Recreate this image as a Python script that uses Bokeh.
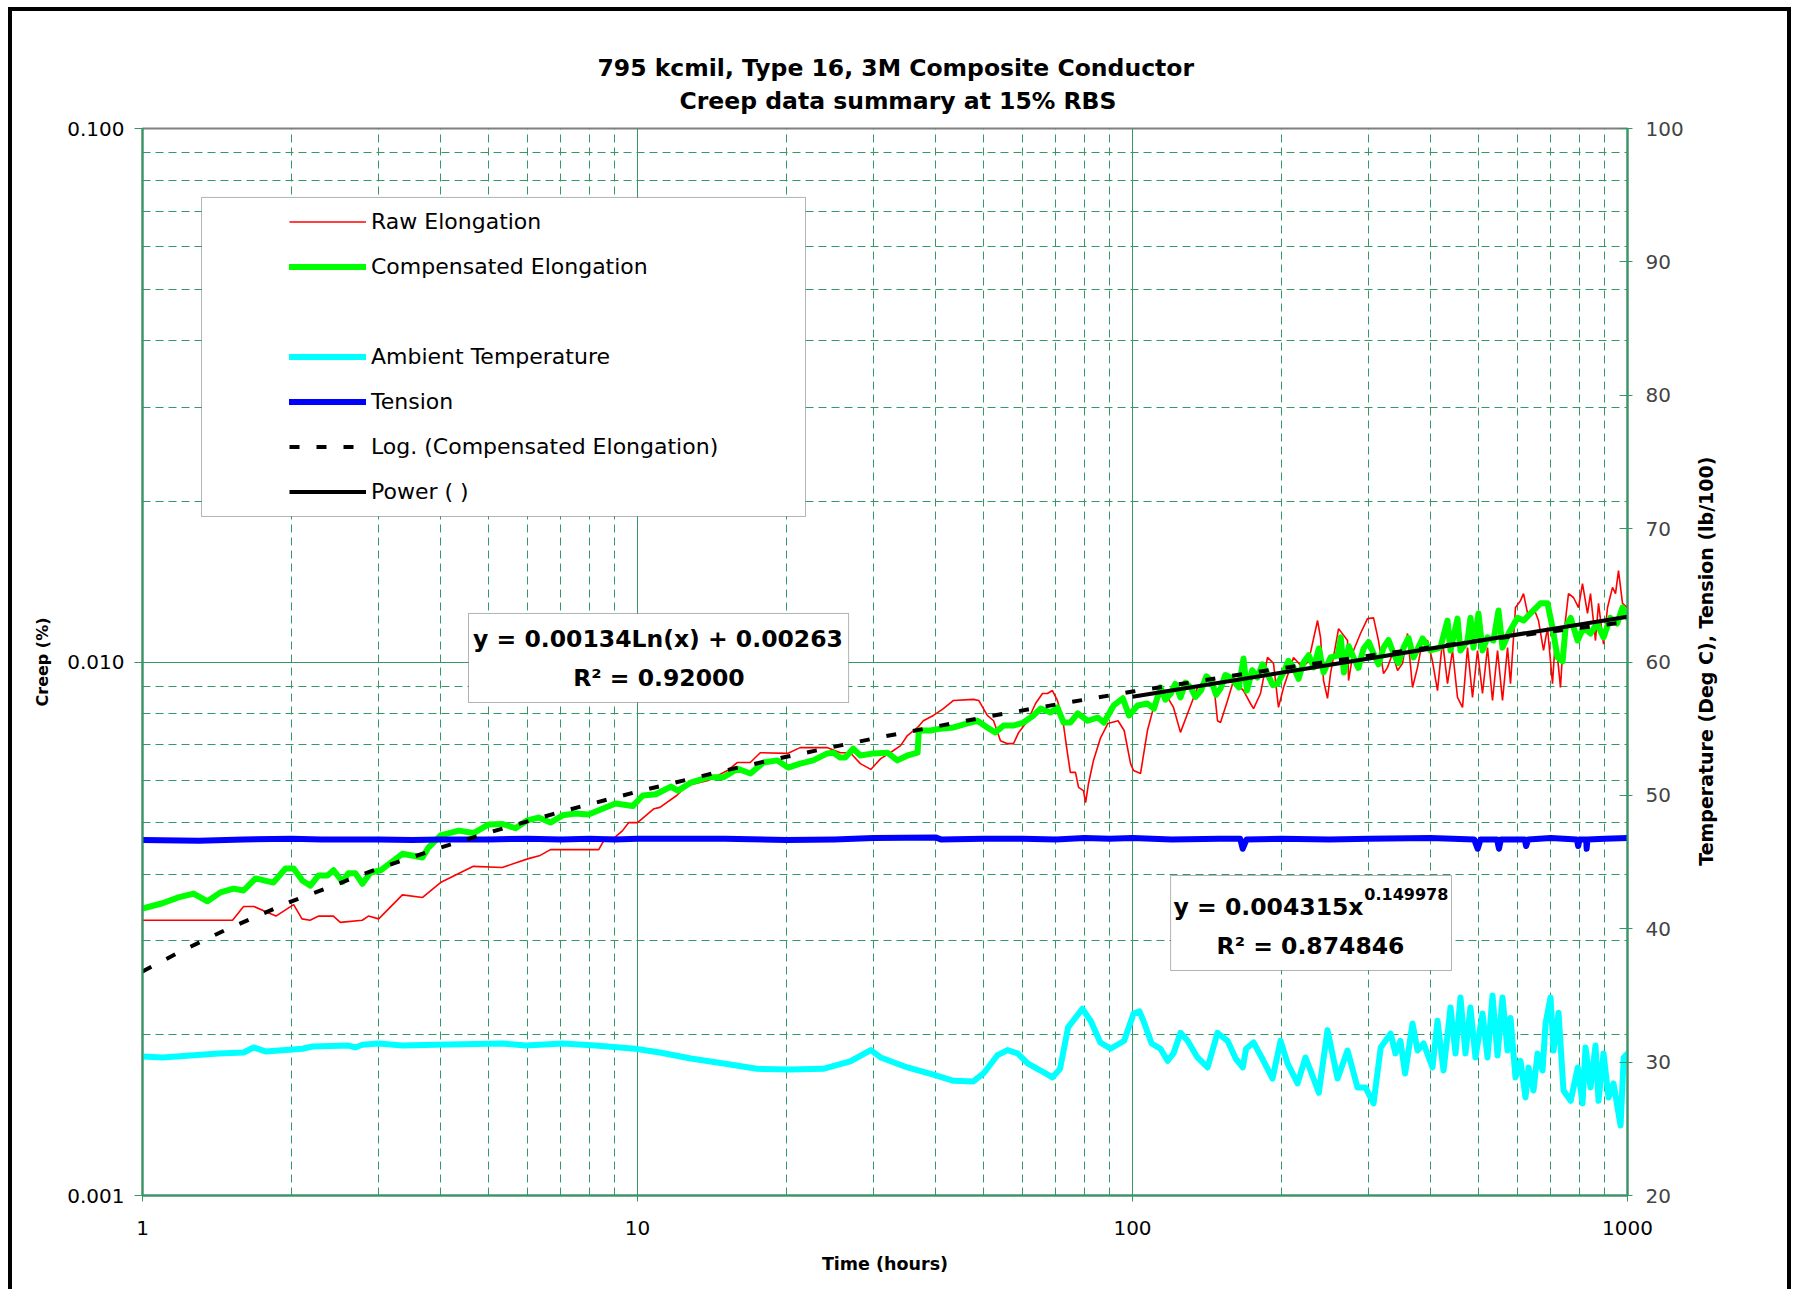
import math
from bokeh.plotting import figure
from bokeh.layouts import row
from bokeh.models import (Range1d, LinearAxis, LinearScale, FixedTicker, Legend, LegendItem,
                          Label, BoxAnnotation, PrintfTickFormatter, Title)
from bokeh.embed import file_html
from bokeh.resources import INLINE

FONT = "DejaVu Sans"
GRID = "#339966"

# ---------------- data ----------------
raw_t = [1.0, 1.52, 1.60, 1.68, 1.86, 2.02, 2.10, 2.18, 2.27, 2.43, 2.51, 2.78, 2.86, 3.0,
         3.35, 3.68, 4.0, 4.66, 5.33, 6.02, 6.36, 6.67, 8.35, 8.62, 9.0, 9.33, 9.6, 10.0,
         10.8, 11.1, 12.0, 12.6, 13.9, 15.2, 15.9, 16.9, 17.7, 20.1, 21.3, 24.2, 25.7, 26.9,
         28.2, 29.6, 31.0, 32.4, 34.0, 35.1, 36.8, 37.8, 39.6, 41.3, 43.5, 47.7, 48.9, 50.9,
         52.4, 54.1, 55.9, 57.5, 58.9, 61.4, 63.7, 65.8, 67.3, 68.9, 70.5, 72.2, 73.9, 74.9,
         76.7, 77.8, 79.6, 80.4, 81.5, 83.4, 86.1, 89.2, 93.5, 96.2, 99.1,
         100.5, 103.8, 107.2, 110.3, 115.5, 121.0, 125.0, 129.2, 135.3, 141.8, 145.7, 148.5,
         150.6, 155.6, 160.0, 167.6, 173.1, 175.6, 181.4, 187.4, 192.7, 197.2, 201.9, 211.5,
         220.5, 226.8, 236.5, 239.8, 243.2, 247.7, 251.2, 260.8, 271.9, 273.2, 279.6, 288.8,
         298.4, 306.9, 314.0, 321.5, 327.5, 335.2, 343.1, 351.2, 359.4, 367.9, 376.5, 385.4,
         394.5, 403.7, 413.2, 422.9, 432.9, 443.1, 453.5, 464.2, 475.1, 486.3, 497.7, 509.4,
         521.4, 533.7, 546.3, 559.1, 572.3, 580.3, 593.9, 607.9, 616.5, 631.0, 645.8, 661.0,
         676.6, 689.3, 705.5, 715.4, 732.2, 742.5, 760.0, 777.9, 796.2, 811.1, 830.2, 841.9,
         861.7, 873.9, 894.5, 911.3, 932.6, 945.8, 959.0, 977.0, 1000.0]
raw_c = [0.00328, 0.00328, 0.00348, 0.00348, 0.00334, 0.00351, 0.00330, 0.00328, 0.00334, 0.00334,
         0.00325, 0.00328, 0.00334, 0.00330, 0.00366, 0.00362, 0.00386, 0.00414, 0.00412, 0.00428,
         0.00434, 0.00445, 0.00445, 0.00469, 0.00469, 0.00483, 0.00500, 0.00500, 0.00531, 0.00534,
         0.00562, 0.00587, 0.00600, 0.00626, 0.00648, 0.00648, 0.00676, 0.00674, 0.00691, 0.00691,
         0.00676, 0.00676, 0.00645, 0.00629, 0.00659, 0.00676, 0.00697, 0.00728, 0.00754, 0.00776,
         0.00794, 0.00815, 0.00847, 0.00851, 0.00847, 0.00794, 0.00776, 0.00712, 0.00703, 0.00703,
         0.00738, 0.00776, 0.00836, 0.00873, 0.00873, 0.00884, 0.00847, 0.00787, 0.00674, 0.00621,
         0.00621, 0.00582, 0.00574, 0.00545, 0.00592, 0.00654, 0.00719, 0.00767, 0.00776, 0.00744,
         0.00645,
         0.00626, 0.00618, 0.00744, 0.00822, 0.00884, 0.00822, 0.00738, 0.00801, 0.00896, 0.00935,
         0.00923, 0.00776, 0.00770, 0.00847, 0.00923, 0.00884, 0.00836, 0.00818, 0.00873, 0.01020,
         0.00994, 0.00822, 0.00896, 0.01020, 0.00977, 0.01003, 0.01196, 0.01112, 0.00923, 0.00855,
         0.00951, 0.01155, 0.01097, 0.00923, 0.01051, 0.01131, 0.01206, 0.01210, 0.01097, 0.00951,
         0.00977, 0.01037, 0.00964, 0.00994, 0.01131, 0.00896, 0.00977, 0.01097, 0.01097, 0.01003,
         0.00884, 0.01097, 0.00911, 0.01051, 0.00858, 0.00822, 0.01064, 0.00858, 0.01051, 0.00873,
         0.01064, 0.00847, 0.01051, 0.00847, 0.01064, 0.00911, 0.01265, 0.01303, 0.01343, 0.01210,
         0.01265, 0.01196, 0.01051, 0.01160, 0.00911, 0.01112, 0.00896, 0.01112, 0.01343, 0.01321,
         0.01265, 0.01403, 0.01233, 0.01343, 0.01097, 0.01288, 0.01080, 0.01265, 0.01380, 0.01343,
         0.01484, 0.01288, 0.01265]

comp_t = [1.0, 1.097, 1.182, 1.268, 1.353, 1.437, 1.527, 1.600, 1.692, 1.839, 1.945, 2.020, 2.105,
          2.184, 2.268, 2.364, 2.432, 2.536, 2.606, 2.691, 2.782, 2.889, 3.027, 3.350, 3.678,
          3.781, 4.002, 4.355, 4.665, 5.004, 5.34, 5.67, 5.99, 6.31, 6.67, 7.06, 7.50, 7.96,
          8.50, 9.03, 9.78, 10.25, 10.89, 11.68, 12.07, 12.81, 13.87, 14.93, 15.93, 16.91,
          17.96, 19.17, 20.15, 21.31, 22.65, 24.18, 24.87, 25.67, 26.28, 27.27, 28.2, 29.97,
          31.97, 33.5, 35.1, 36.8, 37.0, 39.1, 40.9, 43.5, 46.4, 48.6, 50.9, 52.8, 54.9, 57.5,
          60.2, 63.1, 65.2, 68.3, 70.5, 72.6, 74.9, 77.5, 81.2, 85.1, 87.6, 91.6, 95.6, 98.4,
          102.4, 107.2, 110.5, 113.9, 116.5, 119.5, 122.0, 125.0, 128.0, 131.1, 134.0, 137.5,
          141.0, 144.2, 147.5, 150.6, 154.0, 158.0, 164.0, 167.6,
          170.3, 174.5, 178.7, 183.0, 187.4, 192.0, 196.5, 201.9, 206.5, 211.5, 216.5, 221.5,
          227.0, 232.3, 237.9, 243.2, 251.2, 259.6,
          263.5, 267.4, 273.5, 279.6, 286.0, 293.0, 300.0, 306.9, 314.0, 321.5, 329.0, 336.8,
          344.5, 352.9, 361.0, 369.6, 385.4, 399.6, 418.7,
          432.9, 439.0, 453.5, 459.8, 475.1, 481.7, 488.5, 500.0, 509.4, 521.4, 536.1, 548.8,
          559.1, 575.0, 599.5, 616.5, 636.8, 667.1, 689.3, 705.5, 722.3, 739.4, 749.7, 767.7,
          793.0, 815.0, 842.0, 868.0, 894.5, 923.0, 953.0, 977.0, 1000.0]
comp_c = [0.00345, 0.00353, 0.00362, 0.00368, 0.00356, 0.00370, 0.00376, 0.00373, 0.00393, 0.00386,
          0.00410, 0.00410, 0.00389, 0.00381, 0.00398, 0.00398, 0.00407, 0.00387, 0.00402, 0.00402,
          0.00384, 0.00403, 0.00407, 0.00437, 0.00430, 0.00449, 0.00473, 0.00483, 0.00478, 0.00496,
          0.00497, 0.00488, 0.00505, 0.00511, 0.00500, 0.00516, 0.00520, 0.00518, 0.00531, 0.00543,
          0.00537, 0.00562, 0.00565, 0.00584, 0.00574, 0.00594, 0.00608, 0.00608, 0.00631, 0.00618,
          0.00648, 0.00654, 0.00634, 0.00645, 0.00654, 0.00674, 0.00676, 0.00662, 0.00662, 0.00688,
          0.00668, 0.00674, 0.00676, 0.00654, 0.00668, 0.00676, 0.00744, 0.00744, 0.00750, 0.00754,
          0.00767, 0.00776, 0.00754, 0.00738, 0.00760, 0.00760, 0.00770, 0.00794, 0.00818, 0.00804,
          0.00822, 0.00770, 0.00770, 0.00801, 0.00776, 0.00787, 0.00770, 0.00829, 0.00855, 0.00794,
          0.00829, 0.00836, 0.00818, 0.00896, 0.00850, 0.00873, 0.00910, 0.00858, 0.00915, 0.00896,
          0.00860, 0.00884,
          0.00940, 0.00923, 0.00868, 0.00892, 0.00945, 0.00935, 0.00896, 0.01015,
          0.00884, 0.00965, 0.00935, 0.00990, 0.00951, 0.00905, 0.00911, 0.00956, 0.01005, 0.00977,
          0.00930, 0.00998,
          0.01030, 0.00977, 0.01060, 0.00956, 0.01020, 0.01028,
          0.01112, 0.00956, 0.01070, 0.01020, 0.00975, 0.01060, 0.01090, 0.01037, 0.00990, 0.01064,
          0.01100, 0.01037, 0.00995, 0.01064, 0.01110, 0.01020, 0.01107, 0.01051, 0.01064,
          0.01196, 0.01051, 0.01206, 0.01051, 0.01097, 0.01210, 0.01064, 0.01233, 0.01051, 0.01112,
          0.01097, 0.01249, 0.01064, 0.01131, 0.01210, 0.01196, 0.01233, 0.01288, 0.01288, 0.01160,
          0.01020, 0.01003, 0.01160, 0.01210, 0.01097, 0.01160, 0.01131, 0.01181, 0.01112, 0.01210,
          0.01181, 0.01265, 0.01210]

temp_t = [1.0, 1.097, 1.424, 1.600, 1.676, 1.772, 2.105, 2.205, 2.606, 2.691, 2.782, 2.998, 3.350,
          3.909, 5.34, 5.95, 7.06, 8.22, 9.89, 11.1, 12.81, 14.93, 17.42, 20.35, 23.72, 26.9,
          29.6, 31.0, 35.1, 39.6, 43.5, 47.7, 50.0, 53.3, 55.9, 58.6, 61.4, 65.2, 68.9, 71.4,
          74.1, 79.2, 82.3, 86.1, 90.3, 96.2, 100.5, 103.3, 105.2, 109.3, 113.9, 117.7, 121.0,
          125.0, 129.2, 135.3, 141.8, 148.5, 155.6, 161.6, 167.0, 169.6, 175.6, 183.9, 191.8,
          199.1, 205.7, 215.5, 223.6, 228.9, 237.9, 247.7, 259.6, 271.9, 284.8, 295.6, 306.9,
          317.3, 332.4, 339.8, 347.7, 355.4, 367.9, 376.5, 387.3, 403.7, 413.2, 425.0, 439.0,
          449.3, 459.8, 470.6, 481.7, 493.0, 509.4, 521.4, 533.7, 546.3, 559.1, 572.3, 580.3,
          593.9, 607.9, 622.2, 631.0, 645.8, 658.0, 673.5, 683.0, 699.1, 708.9, 725.6, 742.5,
          767.7, 793.6, 811.1, 822.5, 841.9, 861.7, 873.9, 894.5, 915.5, 937.0, 968.3, 982.6,
          1000.0]
temp_v = [30.42, 30.35, 30.64, 30.72, 31.10, 30.80, 31.00, 31.17, 31.24, 31.10, 31.30, 31.40, 31.24,
          31.30, 31.40, 31.24, 31.40, 31.24, 31.00, 30.72, 30.27, 29.90, 29.50, 29.45, 29.50, 30.05,
          30.90, 30.35, 29.60, 29.07, 28.60, 28.55, 29.15, 30.50, 30.90, 30.65, 29.90, 29.37, 28.85,
          29.50, 32.60, 34.00, 33.10, 31.47, 31.00, 31.60, 33.64, 33.80, 33.10, 31.40, 31.00, 30.10,
          30.65, 32.20, 31.60, 30.35, 29.60, 32.20, 31.60, 30.27, 29.60, 31.00, 31.47, 30.10, 28.77,
          31.60, 29.90, 28.40, 30.35, 29.37, 27.70, 32.40, 28.77, 30.87, 28.10, 28.10, 26.90, 31.10,
          32.14, 30.65, 31.60, 29.15, 32.90, 30.87, 31.40, 29.60, 33.10, 29.37, 34.10, 30.65, 34.85,
          30.65, 34.10, 30.35, 33.64, 30.35, 35.00, 30.50, 34.85, 30.87, 33.30, 28.85, 30.10, 27.35,
          29.60, 27.87, 30.65, 29.37, 32.90, 34.85, 30.87, 33.70, 27.87, 27.10, 29.60, 26.90, 31.10,
          28.10, 31.24, 27.10, 30.65, 27.35, 28.40, 25.25, 30.35, 30.65]

tens_t = [1.0, 1.3, 1.6, 2.0, 2.3, 3.0, 3.5, 4.0, 5.0, 6.0, 7.0, 8.0, 9.0, 10.0, 15.0, 20.0, 25.0,
          30.0, 40.0, 41.0, 50.0, 60.0, 70.0, 80.0, 90.0, 100.0, 120.0, 150.0, 165.0, 167.0, 170.0,
          200.0, 250.0, 300.0, 400.0, 490.0, 498.0, 505.0, 545.0, 550.0, 555.0, 620.0, 624.0,
          630.0, 700.0, 790.0, 795.0, 800.0, 825.0, 827.0, 830.0, 900.0, 1000.0]
tens_v = [46.65, 46.60, 46.70, 46.75, 46.70, 46.70, 46.65, 46.70, 46.70, 46.75, 46.70, 46.75, 46.70,
          46.75, 46.75, 46.65, 46.70, 46.80, 46.85, 46.70, 46.75, 46.75, 46.70, 46.80, 46.75, 46.80,
          46.70, 46.75, 46.75, 46.00, 46.70, 46.75, 46.70, 46.75, 46.80, 46.70, 46.00, 46.70, 46.70,
          46.00, 46.70, 46.70, 46.20, 46.70, 46.80, 46.70, 46.20, 46.70, 46.70, 46.00, 46.70, 46.75,
          46.80]

# trend lines (values of the fitted equations shown on the chart)
log_t = [1.0, 1.2, 1.5, 2.0, 3.0, 4.0, 5.0, 7.0, 10.0, 15.0, 20.0, 30.0, 50.0, 70.0, 100.0,
         150.0, 200.0, 300.0, 500.0, 700.0, 1000.0]
log_c = [0.002630, 0.002874, 0.003173, 0.003559, 0.004102, 0.004488, 0.004787, 0.005238,
         0.005715, 0.006259, 0.006644, 0.007188, 0.007872, 0.008323, 0.008801, 0.009344,
         0.009730, 0.010273, 0.010958, 0.011408, 0.011886]
pow_t = [100.0, 1000.0]
pow_c = [0.008609, 0.012159]

x_ticks = [1, 10, 100, 1000]
x_minor = [2, 3, 4, 5, 6, 7, 8, 9, 20, 30, 40, 50, 60, 70, 80, 90, 200, 300, 400, 500, 600, 700, 800, 900]
y_ticks = [0.001, 0.01, 0.1]
y_minor = [0.002, 0.003, 0.004, 0.005, 0.006, 0.007, 0.008, 0.009,
           0.02, 0.03, 0.04, 0.05, 0.06, 0.07, 0.08, 0.09]
r_ticks = [20, 30, 40, 50, 60, 70, 80, 90, 100]

title_lines = ["795 kcmil, Type 16, 3M Composite Conductor", "Creep data summary at 15% RBS"]
right_title = "Temperature (Deg C), Tension (lb/100)"

CANVAS_H = 1278

# ---------------- main figure ----------------
p = figure(frame_width=1485, frame_height=1067,
           x_axis_type="log", y_axis_type="log",
           x_range=Range1d(1, 1000), y_range=Range1d(0.001, 0.1),
           output_backend="svg", toolbar_location=None,
           min_border_left=130, min_border_right=63, min_border_top=117, min_border_bottom=94,
           background_fill_color="white", border_fill_color="white")
p.extra_y_ranges = {"temp": Range1d(20, 100)}
p.extra_y_scales = {"temp": LinearScale()}
p.outline_line_color = "#808080"
p.outline_line_width = 2

xt = FixedTicker(ticks=x_ticks, minor_ticks=x_minor)
yt = FixedTicker(ticks=y_ticks, minor_ticks=y_minor)

xa = p.xaxis[0]
xa.ticker = xt
xa.formatter = PrintfTickFormatter(format="%d")
ya = p.yaxis[0]
ya.ticker = yt
ya.formatter = PrintfTickFormatter(format="%.3f")

for ax in (xa, ya):
    ax.axis_line_color = GRID
    ax.axis_line_width = 2
    ax.major_tick_line_color = GRID
    ax.minor_tick_line_color = None
    ax.major_label_text_font = FONT
    ax.major_label_text_font_size = "20px"
    ax.major_label_text_color = "black"
    ax.axis_label_text_font = FONT
    ax.axis_label_text_font_style = "bold"
    ax.axis_label_text_color = "black"
xa.major_tick_in = 4
xa.major_tick_out = 6
xa.major_label_standoff = 19
xa.axis_label = "Time (hours)"
xa.axis_label_text_font_size = "17.5px"
xa.axis_label_standoff = 16
ya.major_tick_in = 0
ya.major_tick_out = 8
ya.major_label_standoff = 10
ya.axis_label = "Creep (%)"
ya.axis_label_text_font_size = "16px"
ya.axis_label_standoff = 12

ra = LinearAxis(y_range_name="temp", ticker=FixedTicker(ticks=r_ticks))
ra.axis_line_color = GRID
ra.axis_line_width = 2
ra.major_tick_line_color = GRID
ra.major_tick_in = 8
ra.major_tick_out = 5
ra.minor_tick_line_color = None
ra.major_label_text_font = FONT
ra.major_label_text_font_size = "20px"
ra.major_label_standoff = 13
p.add_layout(ra, "right")

p.xgrid.ticker = xt
p.ygrid.ticker = yt
for g in (p.xgrid, p.ygrid):
    g.grid_line_color = GRID
    g.grid_line_width = 1
    g.minor_grid_line_color = GRID
    g.minor_grid_line_width = 1
    g.minor_grid_line_dash = "8 5"

# titles (first added sits closest to the frame)
t2 = Title(text=title_lines[1], align="left", offset=537, text_font=FONT,
           text_font_size="23.5px", text_font_style="bold", text_color="black", standoff=28)
t1 = Title(text=title_lines[0], align="left", offset=455, text_font=FONT,
           text_font_size="23.5px", text_font_style="bold", text_color="black", standoff=0)
try:
    t1.standoff = -22
except Exception:
    t1.standoff = 0
p.add_layout(t2, "above")
p.add_layout(t1, "above")

# ---------------- series ----------------
r_raw = p.line(raw_t, raw_c, line_color="#FF0000", line_width=1.6)
r_comp = p.line(comp_t, comp_c, line_color="#00FF00", line_width=6, line_join="round", line_cap="round")
r_blank = p.line([1], [0.0001], line_alpha=0)
r_temp = p.line(temp_t, temp_v, y_range_name="temp", line_color="#00FFFF", line_width=6,
                line_join="round", line_cap="round")
r_tens = p.line(tens_t, tens_v, y_range_name="temp", line_color="#0000FF", line_width=6,
                line_join="round", line_cap="round")
r_log = p.line(log_t, log_c, line_color="black", line_width=4, line_dash="10 17")
r_pow = p.line(pow_t, pow_c, line_color="black", line_width=4)

# ---------------- legend ----------------
p.add_layout(BoxAnnotation(left=1.316, right=21.85, top=0.07427, bottom=0.01874,
                           fill_color="white", fill_alpha=1, line_color="black", line_width=1))
legend = Legend(items=[
    LegendItem(label="Raw Elongation", renderers=[r_raw]),
    LegendItem(label="Compensated Elongation", renderers=[r_comp]),
    LegendItem(label=" ", renderers=[r_blank]),
    LegendItem(label="Ambient Temperature", renderers=[r_temp]),
    LegendItem(label="Tension", renderers=[r_tens]),
    LegendItem(label="Log. (Compensated Elongation)", renderers=[r_log]),
    LegendItem(label="Power ( )", renderers=[r_pow]),
], location=(147, 681))
legend.padding = 0
legend.margin = 0
legend.spacing = 0
legend.glyph_width = 77
legend.glyph_height = 45
legend.label_height = 45
legend.label_standoff = 5
legend.border_line_color = None
legend.background_fill_alpha = 0
legend.label_text_font = FONT
legend.label_text_font_size = "22px"
legend.label_text_color = "black"
p.add_layout(legend)

# ---------------- equation boxes ----------------
p.add_layout(BoxAnnotation(left=4.556, right=26.7, top=0.01233, bottom=0.008396,
                           fill_color="white", fill_alpha=1, line_color="black", line_width=1))
p.add_layout(BoxAnnotation(left=119.4, right=441.0, top=0.003979, bottom=0.002641,
                           fill_color="white", fill_alpha=1, line_color="black", line_width=1))


def lab(x, y, text, size, align="center"):
    p.add_layout(Label(x=x, y=y, text=text, text_font=FONT, text_font_size=size,
                       text_font_style="bold", text_align=align,
                       text_baseline="middle", text_color="black"))


lab(11.0, 0.01104, "y = 0.00134Ln(x) + 0.00263", "23.5px")
lab(11.05, 0.009352, "R\u00b2 = 0.92000", "23.5px")
lab(292.9, 0.003481, "y = 0.004315x", "23.5px", align="right")
lab(294.0, 0.003674, "0.149978", "16px", align="left")
lab(228.9, 0.002941, "R\u00b2 = 0.874846", "23.5px")

# ---------------- strip on the right holding the right-axis title ----------------
p2 = figure(width=97, height=CANVAS_H, x_range=Range1d(0, 97), y_range=Range1d(0, CANVAS_H),
            output_backend="svg", toolbar_location=None, min_border=0,
            x_axis_location=None, y_axis_location=None,
            background_fill_color="white", border_fill_color="white")
p2.outline_line_color = None
p2.xgrid.visible = False
p2.ygrid.visible = False
p2.add_layout(Label(x=15, y=640, text=right_title, text_font=FONT, text_font_size="19px",
                    text_font_style="bold", text_align="center", text_baseline="middle",
                    angle=math.pi / 2, text_color="black"))

layout = row(p, p2, spacing=0, margin=(7, 0, 0, 8),
             styles={"border-left": "4px solid black", "border-top": "4px solid black",
                     "border-right": "4px solid black", "background-color": "white"})

open("out.html", "w").write(file_html(layout, INLINE))
